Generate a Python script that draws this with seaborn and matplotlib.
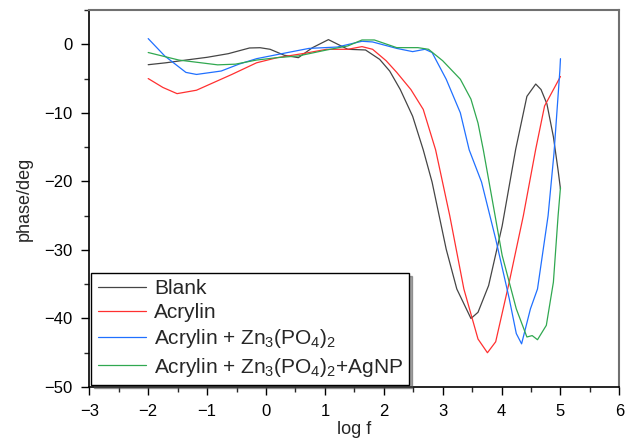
import numpy as np
import pandas as pd
import matplotlib
matplotlib.use('Agg')
import matplotlib.pyplot as plt
import seaborn as sns

# Bode phase data
blank_x = [-2.0, -1.7, -1.36, -1.0, -0.64, -0.28, -0.1, 0.07, 0.31, 0.55, 0.79, 1.06, 1.39, 1.69,
           1.93, 2.10, 2.28, 2.49, 2.67, 2.82, 3.06, 3.24, 3.48, 3.60, 3.78, 4.01, 4.24, 4.43,
           4.58, 4.67, 4.77, 4.88, 4.96, 5.0]
blank_y = [-2.98, -2.7, -2.3, -1.9, -1.37, -0.54, -0.5, -0.73, -1.6, -1.95, -0.49, 0.68, -0.73, -0.83,
           -2.2, -3.9, -6.6, -10.5, -15.4, -20.1, -29.9, -35.7, -40.0, -39.1, -35.2, -26.5, -15.3, -7.6,
           -5.8, -6.6, -8.7, -13.5, -18.4, -21.1]

acrylin_x = [-2.0, -1.75, -1.51, -1.18, -0.58, -0.16, 0.19, 0.67, 1.03, 1.39, 1.63, 1.81, 2.04,
             2.22, 2.46, 2.67, 2.88, 3.12, 3.36, 3.60, 3.76, 3.90, 4.13, 4.37, 4.58, 4.73, 5.0]
acrylin_y = [-5.0, -6.3, -7.2, -6.7, -4.4, -2.7, -1.95, -1.3, -0.73, -0.73, -0.34, -0.73, -2.4,
             -4.1, -6.6, -9.5, -15.4, -25.0, -35.7, -43.0, -45.0, -43.4, -34.7, -25.0, -15.3, -9.0, -4.7]

zn_x = [-2.0, -1.72, -1.36, -1.18, -0.76, -0.46, -0.16, 0.31, 0.73, 1.21, 1.63, 1.81, 2.22, 2.49,
        2.70, 2.82, 3.06, 3.30, 3.45, 3.66, 3.90, 4.13, 4.25, 4.34, 4.49, 4.61, 4.79, 4.89, 4.99, 5.0]
zn_y = [0.83, -1.7, -4.1, -4.4, -3.9, -2.9, -2.1, -1.3, -0.6, -0.4, 0.44, 0.34, -0.6, -1.07,
        -0.73, -1.2, -5.1, -10.0, -15.4, -20.1, -28.4, -37.1, -42.2, -43.7, -38.6, -35.7, -25.0, -15.9, -3.8, -2.1]

agnp_x = [-2.0, -1.48, -0.82, -0.52, -0.16, 0.19, 0.55, 1.03, 1.39, 1.63, 1.84, 2.22, 2.58, 2.76,
          3.0, 3.30, 3.48, 3.60, 3.69, 3.84, 4.01, 4.25, 4.43, 4.52, 4.61, 4.76, 4.88, 4.96, 5.0]
agnp_y = [-1.2, -2.3, -3.0, -2.9, -2.3, -1.95, -1.7, -0.83, -0.24, 0.63, 0.63, -0.49, -0.49, -0.73,
          -2.4, -5.1, -8.0, -11.5, -15.4, -22.6, -30.8, -38.6, -42.7, -42.5, -43.1, -41.0, -34.7, -25.0, -20.9]

labels = ['Blank', 'Acrylin', 'Acrylin + Zn$_3$(PO$_4$)$_2$', 'Acrylin + Zn$_3$(PO$_4$)$_2$+AgNP']
colors = ['#454545', '#ff3030', '#2070ff', '#30a850']

frames = []
for lab, xs, ys in zip(labels, [blank_x, acrylin_x, zn_x, agnp_x], [blank_y, acrylin_y, zn_y, agnp_y]):
    frames.append(pd.DataFrame({'log f': xs, 'phase': ys, 'sample': lab}))
df = pd.concat(frames, ignore_index=True)

sns.set_style('ticks')
plt.rcParams['font.family'] = ['Liberation Sans', 'DejaVu Sans']
plt.rcParams['mathtext.default'] = 'regular'

fig = plt.figure(figsize=(6.32, 4.45), dpi=100)
ax = fig.add_axes([0.1413, 0.1303, 0.8387, 0.8472])

sns.lineplot(data=df, x='log f', y='phase', hue='sample', palette=colors, estimator=None,
             sort=False, linewidth=0.9, ax=ax)

ax.set_xlim(-3, 6)
ax.set_ylim(-50, 5)
ax.set_xticks(range(-3, 7))
ax.set_yticks([0, -10, -20, -30, -40, -50])
ax.set_xticks(np.arange(-3, 6.01, 0.5), minor=True)
ax.set_yticks(np.arange(-50, 5.01, 5), minor=True)
ax.tick_params(which='major', direction='out', length=6, width=1, labelsize=12, pad=6, colors='black')
ax.tick_params(which='minor', direction='out', length=3.5, width=1)
ax.set_xlabel('log f', fontsize=13, labelpad=2)
ax.set_ylabel('phase/deg', fontsize=13, labelpad=8)

for s in ['left', 'bottom']:
    ax.spines[s].set_color('black')
    ax.spines[s].set_linewidth(1.2)
for s in ['top', 'right']:
    ax.spines[s].set_color('#707070')
    ax.spines[s].set_linewidth(1.5)

leg = ax.legend(loc='lower left', fontsize=15, frameon=True, fancybox=False, shadow=True,
                edgecolor='black', handlelength=2.3, handletextpad=0.4, borderaxespad=0.1,
                labelspacing=0.25, borderpad=0.3)
leg.get_frame().set_linewidth(1.0)

fig.savefig('out.png', dpi=100)
